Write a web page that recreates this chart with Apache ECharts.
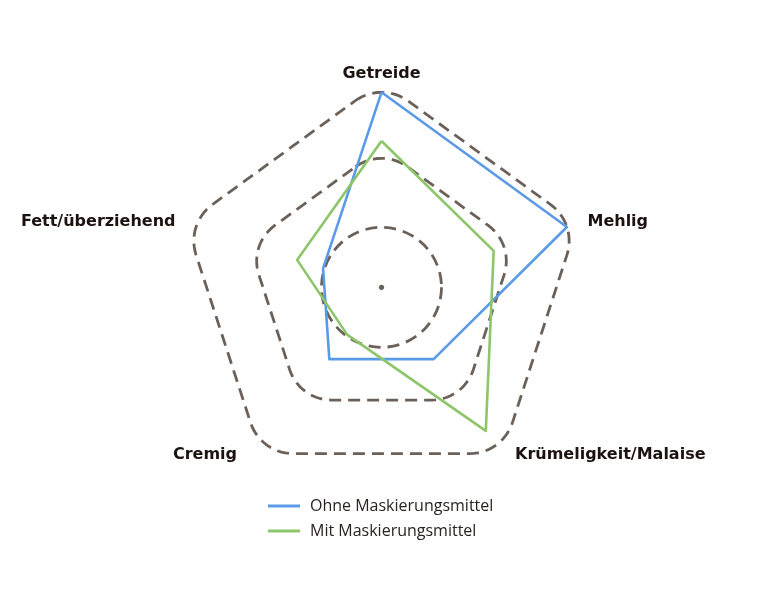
<!DOCTYPE html>
<html>
<head>
<meta charset="utf-8">
<script src="https://cdn.jsdelivr.net/npm/echarts@6/dist/echarts.min.js"></script>
<style>
html,body{margin:0;padding:0;background:#fff;}
#chart{width:773px;height:609px;}
</style>
</head>
<body>
<div id="chart"></div>
<script>
// Indicators (ECharts places them counter-clockwise starting at top)
const indicatorNames = ['Getreide', 'Fett/überziehend', 'Cremig', 'Krümeligkeit/Malaise', 'Mehlig'];
const indicatorMax = 10;
const seriesNames = ['Ohne Maskierungsmittel', 'Mit Maskierungsmittel'];
const ohneValues = [10, 3.15, 4.55, 4.55, 10];
const mitValues = [7.5, 4.55, 3.0, 9.1, 6.05];

const CX = 381.5, CY = 287.3, R = 195;
const gridColor = '#6b6159';

function roundedPentagon(R0, rc) {
  const pts = [];
  const steps = 14;
  for (let k = 0; k < 5; k++) {
    const th = (-90 + 72 * k) * Math.PI / 180;
    const ax = CX + R0 * Math.cos(th), ay = CY + R0 * Math.sin(th);
    for (let s = 0; s <= steps; s++) {
      const a = th + (-36 + 72 * s / steps) * Math.PI / 180;
      pts.push([ax + rc * Math.cos(a), ay + rc * Math.sin(a)]);
    }
  }
  return pts;
}
const ringStyle = { fill: 'none', stroke: gridColor, lineWidth: 2.8, lineDash: [12, 7] };
const rings = [
  { type: 'polygon', z: 1, silent: true, shape: { points: roundedPentagon(150, 45) }, style: ringStyle },
  { type: 'polygon', z: 1, silent: true, shape: { points: roundedPentagon(85, 44) }, style: ringStyle },
  { type: 'circle', z: 1, silent: true, shape: { cx: CX, cy: CY, r: 60 }, style: ringStyle },
  { type: 'circle', z: 1, silent: true, shape: { cx: CX, cy: CY, r: 2.6 }, style: { fill: gridColor } }
];

const nameFont = { color: '#1c1210', fontFamily: 'DejaVu Sans', fontWeight: 'bold', fontSize: 16 };
const richNames = {
  a0: Object.assign({ padding: [0, 0, 0, 0] }, nameFont),
  a1: Object.assign({ padding: [0, 11, 5, 0] }, nameFont),
  a2: Object.assign({ padding: [3, 24, 0, 0] }, nameFont),
  a3: Object.assign({ padding: [3, 0, 0, 13] }, nameFont),
  a4: Object.assign({ padding: [0, 0, 5, 11] }, nameFont)
};

const chart = echarts.init(document.getElementById('chart'), null, { renderer: 'canvas' });
chart.setOption({
  animation: false,
  backgroundColor: '#ffffff',
  graphic: rings,
  legend: {
    orient: 'vertical',
    left: 268,
    top: 498,
    padding: 0,
    itemWidth: 32,
    itemHeight: 3,
    itemGap: 9,
    icon: 'rect',
    data: seriesNames,
    textStyle: { fontFamily: 'Open Sans', fontSize: 16, color: '#2a2320', padding: [0, 0, 0, 5] }
  },
  radar: {
    center: [CX, CY],
    radius: R,
    startAngle: 90,
    splitNumber: 3,
    shape: 'polygon',
    nameGap: 10,
    indicator: indicatorNames.map(n => ({ name: n, max: indicatorMax, min: 0 })),
    axisName: Object.assign({
      formatter: function (name) {
        return '{a' + indicatorNames.indexOf(name) + '|' + name + '}';
      },
      rich: richNames
    }, nameFont),
    axisLine: { show: false },
    splitLine: { show: false },
    splitArea: { show: false },
    axisTick: { show: false },
    axisLabel: { show: false }
  },
  series: [{
    type: 'radar',
    symbol: 'none',
    z: 3,
    data: [
      { name: seriesNames[0], value: ohneValues, lineStyle: { color: '#5b9ae6', width: 2.6 }, itemStyle: { color: '#5b9ae6' } },
      { name: seriesNames[1], value: mitValues, lineStyle: { color: '#8dc66a', width: 2.6 }, itemStyle: { color: '#8dc66a' } }
    ]
  }]
});
</script>
</body>
</html>
